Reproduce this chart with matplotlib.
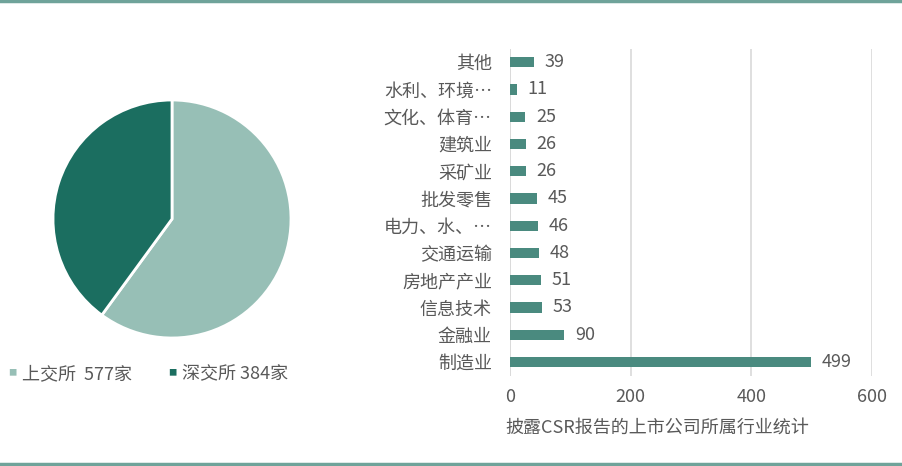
import numpy as np
import matplotlib.pyplot as plt
from matplotlib.lines import Line2D

plt.rcParams['font.family'] = ['Noto Sans CJK SC', 'DejaVu Sans']

# pie data
exchanges = ['上交所  577家', '深交所 384家']
exchange_counts = [577, 384]
pie_colors = ['#97bfb6', '#1b6e60']

# bar data (bottom to top)
industries = ['制造业', '金融业', '信息技术', '房地产产业', '交通运输', '电力、水、…',
              '批发零售', '采矿业', '建筑业', '文化、体育…', '水利、环境…', '其他']
industry_counts = [499, 90, 53, 51, 48, 46, 45, 26, 26, 25, 11, 39]
x_ticks = [0, 200, 400, 600]

text_color = '#595959'
bar_color = '#4a8a7f'
rule_color = '#6fa39a'
fs = 13

fig = plt.figure(figsize=(9.03, 4.66), dpi=100)
W, H = 903, 466

# pie
r = 119
ax_pie = fig.add_axes([(172 - r) / W, 1 - (219 + r) / H, 2 * r / W, 2 * r / H])
ax_pie.pie(exchange_counts, colors=pie_colors, startangle=90, counterclock=False,
           wedgeprops={'edgecolor': 'white', 'linewidth': 2})
ax_pie.set_xlim(-1.0, 1.0)
ax_pie.set_ylim(-1.0, 1.0)
ax_pie.set_aspect('equal')

# pie legend
legend_x = [12, 172]
for lx, lbl, c in zip(legend_x, exchanges, pie_colors):
    fig.text((lx - 4) / W, 1 - 373 / H, '■', color=c, fontsize=6, va='center', ha='left')
    fig.text((lx + 10) / W, 1 - 374 / H, lbl, color=text_color, fontsize=fs,
             va='center', ha='left')

# bars
ax_bar = fig.add_axes([510 / W, 1 - 375.6 / H, 362 / W, 327 / H])
y = np.arange(len(industries))
ax_bar.barh(y, industry_counts, height=0.38, color=bar_color, zorder=3)
for yi, v in zip(y, industry_counts):
    ax_bar.text(v + 18, yi, str(v), va='center', ha='left', color=text_color, fontsize=fs)
ax_bar.set_xlim(0, 600)
ax_bar.set_ylim(-0.5, len(industries) - 0.5)
ax_bar.set_yticks(y)
ax_bar.set_yticklabels(industries)
ax_bar.set_xticks(x_ticks)
ax_bar.tick_params(axis='both', length=0, colors=text_color, labelsize=fs)
ax_bar.tick_params(axis='x', pad=9)
ax_bar.tick_params(axis='y', pad=13)
ax_bar.grid(axis='x', color='#d9d9d9', linewidth=1.2, zorder=0)
for s in ax_bar.spines.values():
    s.set_visible(False)
ax_bar.axvline(0, color='#d9d9d9', linewidth=1.2, zorder=1)
fig.text(505 / W, 1 - 428 / H, '披露CSR报告的上市公司所属行业统计', color=text_color,
         fontsize=fs, va='center', ha='left')

# top and bottom rules
fig.add_artist(Line2D([0, 1], [1 - 1 / H, 1 - 1 / H], color=rule_color, linewidth=2.5))
fig.add_artist(Line2D([0, 1], [1 - 464 / H, 1 - 464 / H], color=rule_color, linewidth=2.5))

fig.savefig('out.png', dpi=100)
